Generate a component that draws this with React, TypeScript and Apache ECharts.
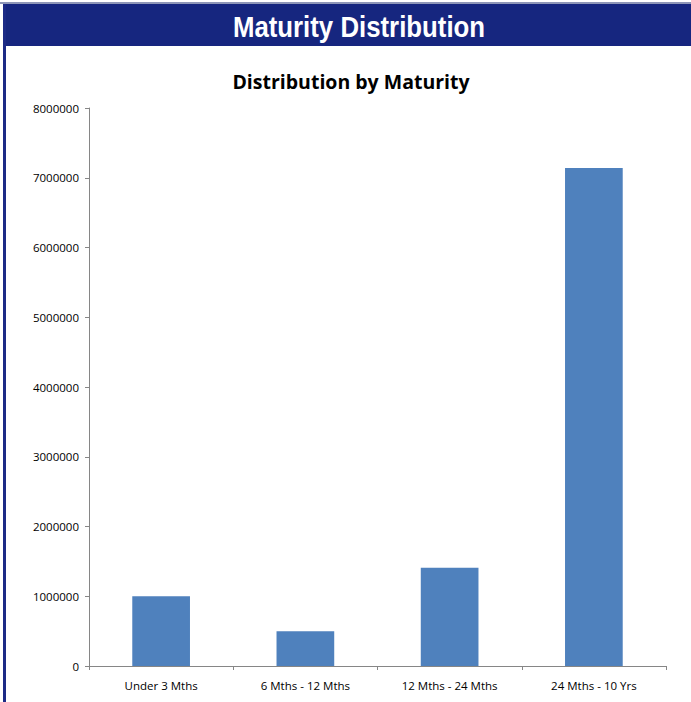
import React, { useEffect, useRef } from "react";
import * as echarts from "echarts";

const categories = ["Under 3 Mths", "6 Mths - 12 Mths", "12 Mths - 24 Mths", "24 Mths - 10 Yrs"];
const values = [1000000, 500000, 1410000, 7140000];
const headerTitle = "Maturity Distribution";
const chartTitle = "Distribution by Maturity";

export default function App() {
  const ref = useRef<HTMLDivElement>(null);
  useEffect(() => {
    if (!ref.current) return;
    const chart = echarts.init(ref.current, null, { renderer: "svg" });
    chart.setOption({
      animation: false,
      backgroundColor: "#ffffff",
      graphic: [
        { type: "rect", shape: { x: 0, y: 2, width: 691, height: 2 }, style: { fill: "#8e96b8" } },
        { type: "rect", shape: { x: 3, y: 4, width: 688, height: 42 }, style: { fill: "#16267f" } },
        { type: "rect", shape: { x: 3, y: 4, width: 3, height: 698 }, style: { fill: "#1c2a86" } },
        {
          type: "text",
          x: 359,
          y: 27,
          scaleX: 0.86,
          originX: 0,
          style: {
            text: headerTitle,
            fill: "#ffffff",
            font: 'bold 30px "Liberation Sans", Arial, sans-serif',
            align: "center",
            verticalAlign: "middle",
          },
        },
      ],
      title: {
        text: chartTitle,
        left: 346,
        top: 66,
        textAlign: "center",
        textStyle: { fontSize: 19.5, fontWeight: "bold", color: "#000", fontFamily: "Open Sans" },
      },
      grid: { left: 89, right: 25, top: 108, bottom: 36, containLabel: false },
      xAxis: {
        type: "category",
        data: categories,
        axisLine: { lineStyle: { color: "#868686" } },
        axisTick: { show: true, length: 4, lineStyle: { color: "#868686" } },
        axisLabel: { color: "#000", fontSize: 11.5, fontFamily: "Open Sans", margin: 13 },
      },
      yAxis: {
        type: "value",
        min: 0,
        max: 8000000,
        interval: 1000000,
        splitLine: { show: false },
        axisLine: { show: true, lineStyle: { color: "#868686" } },
        axisTick: { show: true, length: 4, lineStyle: { color: "#868686" } },
        axisLabel: {
          color: "#000",
          fontSize: 11.5,
          fontFamily: "Open Sans",
          margin: 10,
          formatter: (v: number) => String(v),
        },
      },
      series: [
        {
          type: "bar",
          data: values,
          barWidth: "40%",
          itemStyle: { color: "#4f81bd" },
        },
      ],
    });
    return () => chart.dispose();
  }, []);
  return (
    <div
      ref={ref}
      style={{ position: "absolute", left: 0, top: 0, width: 691, height: 702 }}
    />
  );
}
